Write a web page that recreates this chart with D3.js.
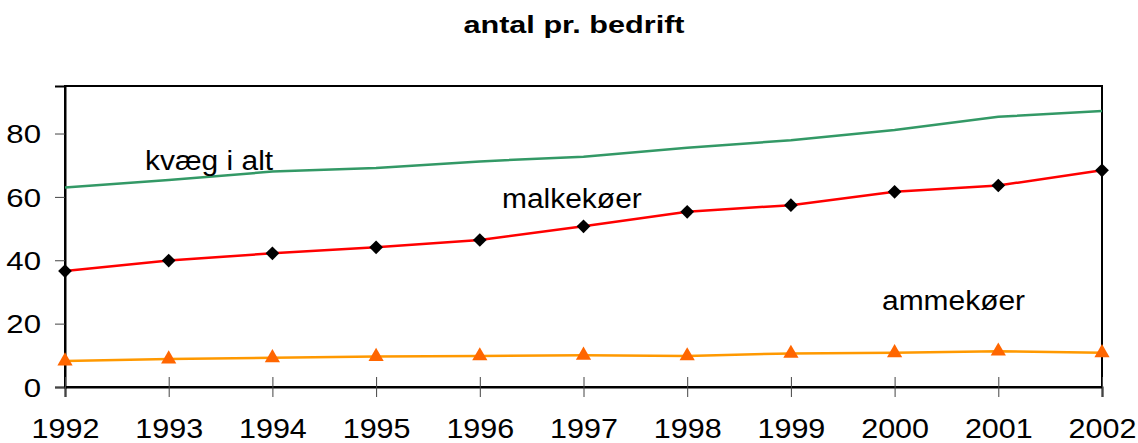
<!DOCTYPE html>
<html>
<head>
<meta charset="utf-8">
<script src="https://cdn.jsdelivr.net/npm/d3@7"></script>
<style>
  body { margin: 0; background: #fff; }
  text { font-family: "Liberation Sans", Arial, sans-serif; }
</style>
</head>
<body>
<div id="chart"></div>
<script>
var years = [1992, 1993, 1994, 1995, 1996, 1997, 1998, 1999, 2000, 2001, 2002];
var kvaeg = [63.0, 65.3, 68.0, 69.1, 71.2, 72.7, 75.5, 77.9, 81.1, 85.3, 87.1];
var malkekoer = [36.6, 39.9, 42.2, 44.1, 46.4, 50.7, 55.3, 57.4, 61.6, 63.6, 68.4];
var ammekoer = [8.2, 8.8, 9.2, 9.6, 9.8, 10.0, 9.8, 10.6, 10.8, 11.3, 10.8];
var yTicks = [0, 20, 40, 60, 80];

var width = 1138, height = 443;
var margin = {left: 65, right: 36, top: 86, bottom: 56};

var svg = d3.select("#chart").append("svg").attr("width", width).attr("height", height);

var x = d3.scalePoint().domain(years).range([margin.left, width - margin.right]);
var y = d3.scaleLinear().domain([0, 95]).range([height - margin.bottom, margin.top]);

// the original text is a bit wider than Arial, so stretch it horizontally
function stretch(sel, sx) {
    sel.each(function() {
        var t = d3.select(this);
        var x0 = +t.attr("x") || 0;
        t.attr("x", x0 / sx).attr("transform", "scale(" + sx + ",1)");
    });
}

// title
svg.append("text").attr("x", 574).attr("y", 33).attr("text-anchor", "middle")
    .style("font-size", "24.5px").style("font-weight", "bold").text("antal pr. bedrift")
    .call(stretch, 1.25);

// plot frame
svg.append("rect").attr("x", margin.left).attr("y", margin.top)
    .attr("width", width - margin.left - margin.right).attr("height", height - margin.top - margin.bottom)
    .attr("fill", "none").attr("stroke", "black").attr("stroke-width", 2);

// y axis
var yAxis = svg.append("g").attr("transform", "translate(" + margin.left + ",0)")
    .call(d3.axisLeft(y).tickValues(yTicks).tickSize(10).tickPadding(14));
yAxis.select(".domain").attr("stroke-width", 2);
yAxis.selectAll(".tick line").attr("stroke", "#444");
yAxis.selectAll("text").style("font-size", "26px").attr("dy", "0.36em").attr("fill", "black")
    .call(stretch, 1.2);

// x axis, ticks crossing the axis line
var xAxis = svg.append("g").attr("transform", "translate(0," + y(0) + ")")
    .call(d3.axisBottom(x).tickSize(10).tickPadding(21));
xAxis.select(".domain").attr("stroke-width", 2);
xAxis.selectAll(".tick line").attr("y1", -10).attr("stroke", "#444");
xAxis.selectAll("text").style("font-size", "28.5px").attr("fill", "black")
    .call(stretch, 1.07);

var line = d3.line().x(function(d, i) { return x(years[i]); }).y(function(d) { return y(d); });

svg.append("path").datum(kvaeg).attr("d", line).attr("fill", "none")
    .attr("stroke", "#339966").attr("stroke-width", 2.5);
svg.append("path").datum(malkekoer).attr("d", line).attr("fill", "none")
    .attr("stroke", "#ff0000").attr("stroke-width", 2.5);
svg.append("path").datum(ammekoer).attr("d", line).attr("fill", "none")
    .attr("stroke", "#ff9900").attr("stroke-width", 2.5);

// markers
svg.selectAll(".diamond").data(malkekoer).enter().append("path").attr("class", "diamond")
    .attr("d", d3.symbol().type(d3.symbolDiamond2).size(120))
    .attr("transform", function(d, i) { return "translate(" + x(years[i]) + "," + y(d) + ")"; })
    .attr("fill", "black");
svg.selectAll(".tri").data(ammekoer).enter().append("path").attr("class", "tri")
    .attr("d", d3.symbol().type(d3.symbolTriangle).size(100))
    .attr("transform", function(d, i) { return "translate(" + x(years[i]) + "," + y(d) + ")"; })
    .attr("fill", "#ff6600");

// series labels
var labels = [
  {t: "kvæg i alt", x: 145, y: 170},
  {t: "malkekøer", x: 502, y: 208},
  {t: "ammekøer", x: 882, y: 310}
];
svg.selectAll(".lab").data(labels).enter().append("text").attr("class", "lab")
    .attr("x", function(d) { return d.x; }).attr("y", function(d) { return d.y; })
    .style("font-size", "28px").text(function(d) { return d.t; })
    .call(stretch, 1.07);
</script>
</body>
</html>
